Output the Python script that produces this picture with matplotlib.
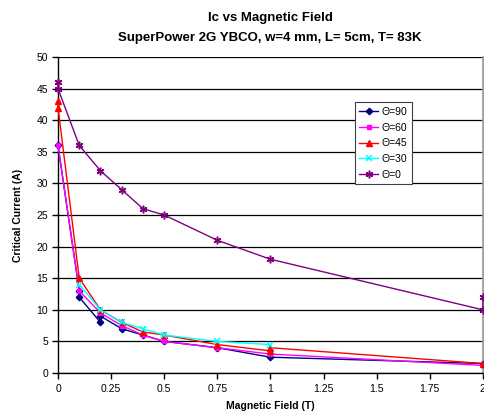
import matplotlib
matplotlib.use("Agg")
import matplotlib.pyplot as plt

plt.rcParams['font.family'] = ['Liberation Sans', 'DejaVu Sans']

# Measured critical current (A) versus applied field (T) for each field angle
field_90 = [0, 0.1, 0.1, 0.2, 0.2, 0.3, 0.4, 0.5, 0.75, 1, 2]
ic_90 = [36, 13, 12, 8, 9, 7, 6, 5, 4, 2.5, 1.5]

field_60 = [0, 0.1, 0.2, 0.3, 0.4, 0.5, 0.75, 1, 2]
ic_60 = [36, 13, 9.5, 7.5, 6, 5, 4, 3, 1.2]

field_45 = [0, 0, 0.1, 0.2, 0.3, 0.4, 0.5, 0.75, 1, 1, 2]
ic_45 = [43, 42, 15, 10, 8, 6.5, 6, 4.5, 3.5, 4, 1.5]

field_30 = [0.1, 0.2, 0.3, 0.4, 0.5, 0.75, 1]
ic_30 = [14, 10, 8, 7, 6, 5, 4.5]

field_0 = [0, 0, 0.1, 0.2, 0.3, 0.4, 0.5, 0.75, 1, 2, 2]
ic_0 = [46, 45, 36, 32, 29, 26, 25, 21, 18, 10, 12]

labels = ['Θ=90', 'Θ=60', 'Θ=45', 'Θ=30', 'Θ=0']
x_ticks = [0, 0.25, 0.5, 0.75, 1, 1.25, 1.5, 1.75, 2]
x_tick_labels = ['0', '0.25', '0.5', '0.75', '1', '1.25', '1.5', '1.75', '2']
y_ticks = [0, 5, 10, 15, 20, 25, 30, 35, 40, 45, 50]

fig = plt.figure(figsize=(4.85, 4.15), dpi=100)
ax = fig.add_axes([0.1196, 0.1012, 0.876, 0.7614])

styles = [
    dict(color='#000080', marker='D', markersize=3.3),
    dict(color='#FF00FF', marker='s', markersize=3.3),
    dict(color='#FF0000', marker='^', markersize=4.8),
    dict(color='#00FFFF', marker='x', markersize=4.8, markeredgewidth=1.1),
    dict(color='#800080', marker=(6, 2, 0), markersize=5.5, markeredgewidth=1.1),
]
series = [(field_90, ic_90), (field_60, ic_60), (field_45, ic_45),
          (field_30, ic_30), (field_0, ic_0)]

for (xs, ys), lab, st in zip(series, labels, styles):
    ax.plot(xs, ys, label=lab, linewidth=1.0, clip_on=False, zorder=3, **st)

ax.set_xlim(0, 2)
ax.set_ylim(0, 50)
ax.set_xticks(x_ticks)
ax.set_xticklabels(x_tick_labels)
ax.set_yticks(y_ticks)
ax.yaxis.grid(True, color='black', linewidth=0.9)
ax.set_axisbelow(True)

for side in ['left', 'bottom']:
    ax.spines[side].set_color('black')
    ax.spines[side].set_linewidth(1.0)
ax.spines['top'].set_visible(False)
ax.spines['right'].set_color('#A0A0A0')
ax.spines['right'].set_linewidth(2.0)

ax.tick_params(axis='both', direction='out', length=4, width=1, labelsize=7.5,
               colors='black', pad=3)
ax.tick_params(axis='x', pad=4)

ax.set_xlabel('Magnetic Field (T)', fontsize=7.5, fontweight='bold', labelpad=5)
ax.set_ylabel('Critical Current (A)', fontsize=7.5, fontweight='bold', labelpad=10)

fig.text(0.557, 0.957, 'Ic vs Magnetic Field', ha='center', va='center',
         fontsize=9.5, fontweight='bold')
fig.text(0.557, 0.909, 'SuperPower 2G YBCO, w=4 mm, L= 5cm, T= 83K',
         ha='center', va='center', fontsize=9.5, fontweight='bold')

leg = ax.legend(loc='upper left', bbox_to_anchor=(0.698, 0.857), fontsize=7.5,
                frameon=True, fancybox=False, handlelength=1.8, handletextpad=0.35,
                borderpad=0.45, labelspacing=0.55, borderaxespad=0)
leg.get_frame().set_edgecolor('#404040')
leg.get_frame().set_linewidth(0.8)
leg.get_frame().set_alpha(1.0)

fig.savefig('out.png', dpi=100)
